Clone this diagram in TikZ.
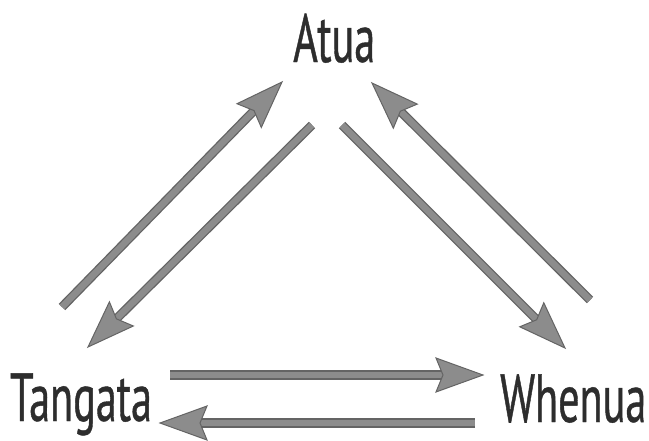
\documentclass[tikz,border=0pt]{standalone}
\usepackage{fontspec}
\setmainfont{PT Sans}[FakeStretch=0.62, FakeBold=0.6]
\usetikzlibrary{calc}

\definecolor{arrowfill}{RGB}{140,140,140}
\definecolor{arrowedge}{RGB}{100,100,100}
\definecolor{labelink}{RGB}{45,45,45}

\tikzset{
  word/.style={inner sep=0pt, text=labelink, font=\fontsize{68}{68}\selectfont},
  shaft/.style={draw=arrowedge, line width=1.3pt, double=arrowfill, double distance=6.5pt, shorten >=38pt},
  head/.style={draw=arrowedge, fill=arrowfill, line width=1pt, line join=miter},
}

% shaft first, then a barbed head (47pt long, 34pt wide, small notch) over its end
\newcommand\flow[2]{%
  \draw[shaft] (#1) -- (#2);
  \coordinate (hb) at ($(#2)!47pt!(#1)$);
  \coordinate (hn) at ($(#2)!40pt!(#1)$);
  \draw[head] (#2) -- ($(hb)!17pt!90:(#2)$) -- (hn) -- ($(hb)!17pt!-90:(#2)$) -- cycle;
}

\begin{document}
\begin{tikzpicture}[x=1pt,y=-1pt]
  \useasboundingbox (0,0) rectangle (649,440);
  \fill[white] (0,0) rectangle (649,440);

  \node[word, anchor=base west] (atua) at (293,62) {Atua};
  \node[word, anchor=base west] (tangata) at (10,421) {Tangata};
  \node[word, anchor=base west] (whenua) at (500,422) {Whenua};

  % arrow end points
  \coordinate (ta-s) at (62,307);
  \coordinate (ta-e) at (282,82);
  \coordinate (at-s) at (312,125);
  \coordinate (at-e) at (88,347);
  \coordinate (aw-s) at (342,125);
  \coordinate (aw-e) at (565,348);
  \coordinate (wa-s) at (590,300);
  \coordinate (wa-e) at (372,83);
  \coordinate (tw-s) at (170,375);
  \coordinate (tw-e) at (483,375);
  \coordinate (wt-s) at (475,423);
  \coordinate (wt-e) at (160,423);

  \flow{ta-s}{ta-e}
  \flow{at-s}{at-e}
  \flow{aw-s}{aw-e}
  \flow{wa-s}{wa-e}
  \flow{tw-s}{tw-e}
  \flow{wt-s}{wt-e}
\end{tikzpicture}
\end{document}
